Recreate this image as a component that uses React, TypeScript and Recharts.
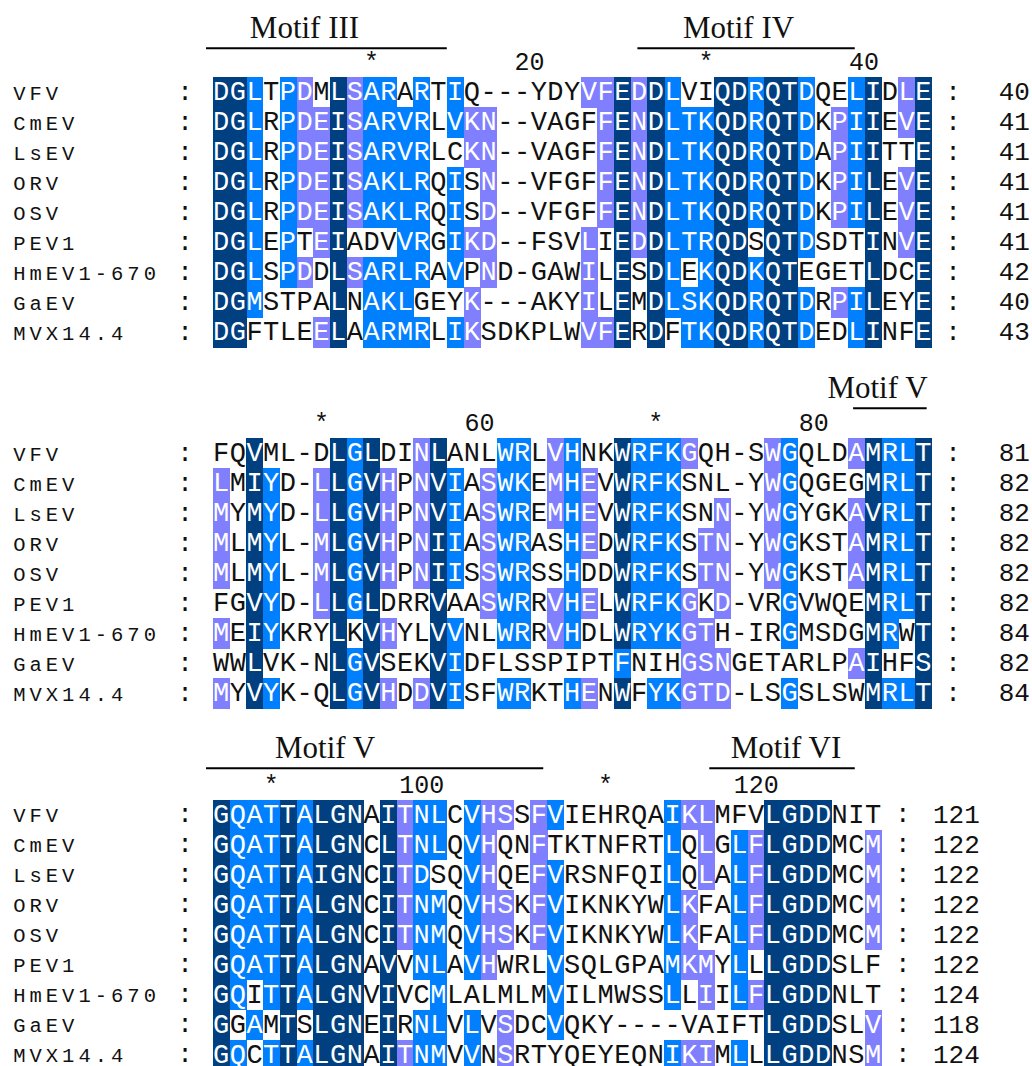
import React from 'react';
import { ScatterChart, Scatter, XAxis, YAxis, ReferenceLine } from 'recharts';

const WIDTH = 1032;
const HEIGHT = 1066;
const X_MIN = -12.721;
const X_MAX = 49.0;
const ROW_PX = 30;
const Y_MIN = -2.577;
const Y_MAX = Y_MIN + HEIGHT / ROW_PX;

const NAMES = ['VFV', 'CmEV', 'LsEV', 'ORV', 'OSV', 'PEV1', 'HmEV1-670', 'GaEV', 'MVX14.4'];

const SEQ1 = [
  'DGLTPDMLSARARTIQ---YDYVFEDDLVIQDRQTDQELIDLE',
  'DGLRPDEISARVRLVKN--VAGFFENDLTKQDRQTDKPIIEVE',
  'DGLRPDEISARVRLCKN--VAGFFENDLTKQDRQTDAPIITTE',
  'DGLRPDEISAKLRQISN--VFGFFENDLTKQDRQTDKPILEVE',
  'DGLRPDEISAKLRQISD--VFGFFENDLTKQDRQTDKPILEVE',
  'DGLEPTEIADVVRGIKD--FSVLIEDDLTRQDSQTDSDTINVE',
  'DGLSPDDLSARLRAVPND-GAWILESDLEKQDKQTEGETLDCE',
  'DGMSTPALNAKLGEYK---AKYILEMDLSKQDRQTDRPILEYE',
  'DGFTLEELAARMRLIKSDKPLWVFERDFTKQDRQTDEDLINFE',
];
// shading level per residue: 0 none, 1 >=60%, 2 >=80%, 3 100%
const SHADE1 = [
  '3320210312' + '2020200000' + '0011313200' + '3323320023' + '013',
  '3320211312' + '2220211000' + '0001313222' + '3323320123' + '013',
  '3320211312' + '2220011000' + '0001313222' + '3323320123' + '003',
  '3320211312' + '2220201000' + '0001313222' + '3323320123' + '013',
  '3320211312' + '2220201000' + '0001313222' + '3323320123' + '013',
  '3320201300' + '0220211000' + '0010313222' + '3303320003' + '013',
  '3320210312' + '2220201000' + '0010303202' + '3323300003' + '003',
  '3320000302' + '2200010000' + '0010303222' + '3323320123' + '003',
  '3300001302' + '2220210000' + '0011303022' + '3323320023' + '003',
];
const END1 = [40, 41, 41, 41, 41, 41, 42, 40, 43];

const SEQ2 = [
  'FQVML-DLGLDINLANLWRLVHNKWRFKGQH-SWGQLDAMRLT',
  'LMIYD-LLGVHPNVIASWKEMHEVWRFKSNL-YWGQGEGMRLT',
  'MYMYD-LLGVHPNVIASWREMHEVWRFKSNN-YWGYGKAVRLT',
  'MLMYL-MLGVHPNIIASWRASHEDWRFKSTN-YWGKSTAMRLT',
  'MLMYL-MLGVHPNIISSWRSSHDDWRFKSTN-YWGKSTAMRLT',
  'FGVYD-LLGLDRRVAASWRRVHELWRFKGKD-VRGVWQEMRLT',
  'MEIYKRYLKVHYLVVNLWRRVHDLWRYKGTH-IRGMSDGMRWT',
  'WWLVK-NLGVSEKVIDFLSSPIPTFNIHGSNGETARLPAIHFS',
  'MYVYK-QLGVHDDVISFWRKTHENWFYKGTD-LSGSLSWMRLT',
];
const SHADE2 = [
  '0030000323' + '0013000220' + '1200322210' + '0001200013' + '223',
  '1032001323' + '1013201220' + '1210322200' + '0001200003' + '223',
  '1032001323' + '1013201220' + '1210322200' + '1001200013' + '223',
  '1032001323' + '1013201220' + '0210322201' + '1001200013' + '223',
  '1032001323' + '1013201220' + '0200322201' + '1001200013' + '223',
  '0032001323' + '0003001220' + '1210322210' + '1000200003' + '223',
  '1032000303' + '1003200220' + '1200322211' + '0000200003' + '203',
  '0030000323' + '0003200000' + '0000200011' + '1000000013' + '003',
  '1032000323' + '1013200220' + '0210302211' + '1000200003' + '223',
];
const END2 = [81, 82, 82, 82, 82, 82, 84, 82, 84];

const SEQ3 = [
  'GQATTALGNAITNLCVHSSFVIEHRQAIKLMFVLGDDNIT',
  'GQATTALGNCLTNLQVHQNFTKTNFRTLQLGLFLGDDMCM',
  'GQATTAIGNCITDSQVHQEFVRSNFQILQLALFLGDDMCM',
  'GQATTALGNCITNMQVHSKFVIKNKYWLKFALFLGDDMCM',
  'GQATTALGNCITNMQVHSKFVIKNKYWLKFALFLGDDMCM',
  'GQATTALGNAVVNLAVHWRLVSQLGPAMKMYLLLGDDSLF',
  'GQITTALGNVIVCMLALMLMVILMWSSLLIILFLGDDNLT',
  'GGAMTSLGNEIRNLVLVSDCVQKY----VAIFTLGDDSLV',
  'GQCTTALGNAITNMVVNSRTYQEYEQNIKIMLLLGDDNSM',
];
const SHADE3 = [
  '3222323330' + '3122021101' + '2000000211' + '0003333000',
  '3222323330' + '3122021001' + '0000000201' + '0213333001',
  '3222323330' + '3120021001' + '2000000201' + '0213333001',
  '3222323330' + '3122021101' + '2000000210' + '0213333001',
  '3222323330' + '3122021101' + '2000000210' + '0213333001',
  '3222323330' + '3022021000' + '2000000211' + '0203333000',
  '3202323330' + '3002000000' + '2000000201' + '0213333000',
  '3020303330' + '3022020100' + '2000000000' + '0003333001',
  '3202323330' + '3122020100' + '0000000211' + '0203333001',
];
const END3 = [121, 122, 122, 122, 122, 122, 124, 118, 124];

const RULER1 = [{ col: 9, t: '*' }, { col: 19, t: '20' }, { col: 29, t: '*' }, { col: 39, t: '40' }];
const RULER2 = [{ col: 6, t: '*' }, { col: 16, t: '60' }, { col: 26, t: '*' }, { col: 36, t: '80' }];
const RULER3 = [{ col: 3, t: '*' }, { col: 13, t: '100' }, { col: 23, t: '*' }, { col: 33, t: '120' }];

const MOTIFS = [
  { block: 0, label: 'Motif III', from: -0.4, to: 14.0, mid: 5.49 },
  { block: 0, label: 'Motif IV', from: 25.4, to: 38.4, mid: 31.45 },
  { block: 1, label: 'Motif V', from: 38.3, to: 42.7, mid: 39.76 },
  { block: 2, label: 'Motif V', from: -0.4, to: 19.77, mid: 6.72 },
  { block: 2, label: 'Motif VI', from: 29.7, to: 38.4, mid: 34.29 },
];

// layout
const BLOCK_TOPS = [0, 12.033, 24.09];
const MOTIF_LINE_OFF = [-0.967, -1.0, -1.057];
const MOTIF_TEXT_OFF = [-1.3, -1.333, -1.39];
const BLOCKS = [
  { seq: SEQ1, shade: SHADE1, end: END1, ruler: RULER1 },
  { seq: SEQ2, shade: SHADE2, end: END2, ruler: RULER2 },
  { seq: SEQ3, shade: SHADE3, end: END3, ruler: RULER3 },
];

const CELL_W = WIDTH / (X_MAX - X_MIN);
const FILLS = ['none', '#8080ff', '#0080ff', '#004080'];
const MONO = "'Liberation Mono', 'Courier New', monospace";
const SERIF = "'Liberation Serif', 'Times New Roman', serif";

type Cell = { x: number; y: number; ch: string; shade: number };
const cellsByShade: Cell[][] = [[], [], [], []];
const nameData: any[] = [];
const colonData: any[] = [];
const endData: any[] = [];
const rulerData: any[] = [];
BLOCKS.forEach((b, bi) => {
  const top = BLOCK_TOPS[bi];
  b.seq.forEach((s, r) => {
    for (let c = 0; c < s.length; c++) {
      const sh = Number(b.shade[r][c]);
      cellsByShade[sh].push({ x: c + 0.5, y: top + r + 0.5, ch: s[c], shade: sh });
    }
    nameData.push({ x: -11.93, y: top + r + 0.743, text: NAMES[r] });
    colonData.push({ x: -1.66, y: top + r + 0.743, text: ':' });
    colonData.push({ x: s.length + 1.28, y: top + r + 0.743, text: ':' });
    endData.push({ x: s.length + 5.88, y: top + r + 0.757, text: String(b.end[r]) });
  });
  b.ruler.forEach((m) => {
    if (m.t === '*') rulerData.push({ x: m.col + 0.5, y: top - 0.25, text: m.t, anchor: 'middle' });
    else rulerData.push({ x: m.col + 0.85, y: top - 0.25, text: m.t, anchor: 'end' });
  });
});
const motifText = MOTIFS.map((m) => ({ x: m.mid, y: BLOCK_TOPS[m.block] + MOTIF_TEXT_OFF[m.block], text: m.label }));

const CellShape = (props: any) => {
  const { cx, cy, payload } = props;
  const s = payload.shade;
  return (
    <g>
      {s > 0 && (
        <rect
          x={cx - CELL_W / 2}
          y={cy - ROW_PX / 2}
          width={CELL_W + 0.4}
          height={ROW_PX + 0.4}
          fill={FILLS[s]}
          shapeRendering="crispEdges"
        />
      )}
      <text x={cx} y={cy + 7.7} textAnchor="middle" fontFamily={MONO} fontSize={27} fill={s > 0 ? '#ffffff' : '#111111'}>
        {payload.ch}
      </text>
    </g>
  );
};

const makeText = (size: number, family: string, anchor: string, spacing = 0) => (props: any) => {
  const { cx, cy, payload } = props;
  return (
    <text
      x={cx}
      y={cy}
      textAnchor={payload.anchor || anchor}
      fontFamily={family}
      fontSize={size}
      letterSpacing={spacing}
      fill="#111111"
    >
      {payload.text}
    </text>
  );
};

export default function App() {
  return (
    <div style={{ position: 'absolute', left: 0, top: 0, width: WIDTH, height: HEIGHT, background: '#ffffff' }}>
      <ScatterChart width={WIDTH} height={HEIGHT} margin={{ top: 0, right: 0, bottom: 0, left: 0 }}>
        <XAxis type="number" dataKey="x" domain={[X_MIN, X_MAX]} allowDataOverflow hide />
        <YAxis type="number" dataKey="y" domain={[Y_MIN, Y_MAX]} allowDataOverflow reversed hide />
        {cellsByShade.map((d, i) => (
          <Scatter key={'s' + i} data={d} shape={CellShape} isAnimationActive={false} />
        ))}
        <Scatter data={nameData} shape={makeText(20.5, MONO, 'start', 4)} isAnimationActive={false} />
        <Scatter data={colonData} shape={makeText(26, MONO, 'middle')} isAnimationActive={false} />
        <Scatter data={endData} shape={makeText(26, MONO, 'end')} isAnimationActive={false} />
        <Scatter data={rulerData} shape={makeText(25, MONO, 'middle')} isAnimationActive={false} />
        <Scatter data={motifText} shape={makeText(31, SERIF, 'middle')} isAnimationActive={false} />
        {MOTIFS.map((m, i) => (
          <ReferenceLine
            key={'m' + i}
            segment={[
              { x: m.from, y: BLOCK_TOPS[m.block] + MOTIF_LINE_OFF[m.block] },
              { x: m.to, y: BLOCK_TOPS[m.block] + MOTIF_LINE_OFF[m.block] },
            ]}
            stroke="#000000"
            strokeWidth={2}
            ifOverflow="visible"
          />
        ))}
      </ScatterChart>
    </div>
  );
}
